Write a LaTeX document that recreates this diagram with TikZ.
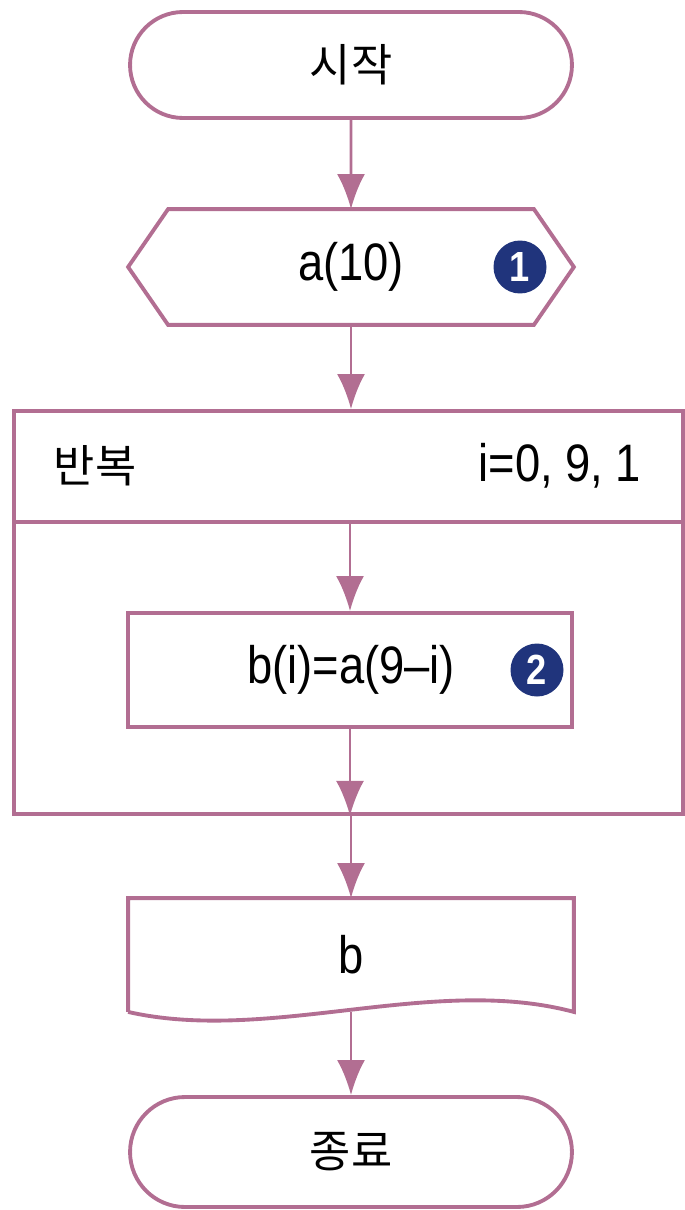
\documentclass[tikz,border=0pt]{standalone}
\usepackage{fontspec}
\setmainfont{Liberation Sans}[FakeStretch=0.86]
\newfontfamily\krfont{Noto Sans CJK KR}[Scale=0.85]
\usepackage{xcolor}
\usetikzlibrary{arrows.meta}
\usetikzlibrary{shapes.misc}
\definecolor{flowline}{RGB}{178,110,146}
\definecolor{badgeblue}{RGB}{32,52,124}

\begin{document}
\begin{tikzpicture}[x=0.02cm,y=-0.02cm]
\tikzset{>={Latex[width=5.6mm,length=7mm]}}
\tikzstyle{box} =[draw=flowline, line width=2.2pt, inner sep=0pt, font=\fontsize{30}{36}\selectfont]
\tikzstyle{term} =[box, rounded rectangle, minimum width=8.84cm, minimum height=2.12cm]
\tikzstyle{ghost} =[box, draw=none, minimum width=8.84cm]
\tikzstyle{badge} =[circle, fill=badgeblue, text=white, inner sep=0pt, minimum size=1.06cm, font=\fontsize{24}{28}\selectfont\bfseries]
\tikzstyle{flow} =[->, draw=flowline, fill=flowline, line width=1.6pt]
\useasboundingbox (0,0) rectangle (684,1210);

\node[term](start) at (351,65){\krfont 시작};
\node[ghost,minimum height=2.24cm](arr) at (351,267){a(10)};
\draw[flowline,line width=2.2pt] (arr.west) -- ([xshift=0.8cm]arr.north west) -- ([xshift=-0.8cm]arr.north east)
  -- (arr.east) -- ([xshift=-0.8cm]arr.south east) -- ([xshift=0.8cm]arr.south west) -- cycle;
\node[badge](one) at (520,267){1};

\node[box,minimum width=13.38cm,minimum height=2.22cm](loophead) at (348.5,466.5){};
\node[box,minimum width=13.38cm,minimum height=5.84cm](loopbody) at (348.5,668){};
\node[box,draw=none,anchor=west](rep) at (52,466){\krfont 반복};
\node[box,draw=none,anchor=east](range) at (643,466){i=0, 9, 1};

\node[box,minimum width=8.88cm,minimum height=2.28cm](proc) at (350,670){};
\node[box,draw=none](assign) at (351,670){b(i)=a(9--i)};
\node[badge](two) at (537,670){2};

\node[ghost,minimum height=2.2cm](out) at (351,955){b};
\draw[flowline,line width=2.2pt] (out.south west) -- (out.north west) -- (out.north east) -- (out.south east)
  .. controls (432,974) and (270,1044) .. (out.south west);

\node[term,minimum height=2.2cm](stop) at (351,1152){\krfont 종료};

\draw[flow] (start) -- (arr);
\draw[flow] (arr.south) -- (arr.south |- loophead.north);
\draw[flow] (loophead.south -| proc.north) -- (proc.north);
\draw[flow] (proc.south) -- (proc.south |- loopbody.south);
\draw[flow] (loopbody.south -| out.north) -- (out.north);
\draw[flow] (out.south) -- (stop.north);
\end{tikzpicture}
\end{document}
